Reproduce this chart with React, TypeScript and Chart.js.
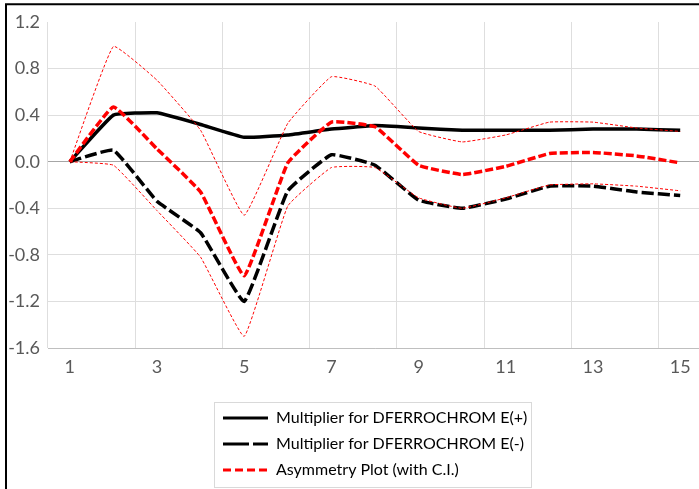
import React, { useEffect, useRef } from 'react';
import { Chart, registerables } from 'chart.js';

Chart.register(...registerables);

const categories = ['1', '2', '3', '4', '5', '6', '7', '8', '9', '10', '11', '12', '13', '14', '15'];
const multiplierPos = [0, 0.40, 0.42, 0.32, 0.21, 0.23, 0.28, 0.31, 0.29, 0.27, 0.27, 0.27, 0.28, 0.28, 0.27];
const multiplierNeg = [0, 0.10, -0.34, -0.61, -1.20, -0.25, 0.06, -0.03, -0.33, -0.40, -0.32, -0.21, -0.21, -0.26, -0.29];
const asymmetry = [0, 0.47, 0.11, -0.26, -0.98, -0.01, 0.34, 0.30, -0.03, -0.11, -0.04, 0.07, 0.08, 0.05, -0.01];
const upperCI = [0, 0.99, 0.70, 0.27, -0.46, 0.33, 0.73, 0.65, 0.26, 0.17, 0.23, 0.34, 0.34, 0.29, 0.26];
const lowerCI = [0, -0.03, -0.42, -0.82, -1.50, -0.38, -0.05, -0.05, -0.31, -0.40, -0.31, -0.20, -0.19, -0.21, -0.25];
const yMin = -1.6;
const yMax = 1.2;
const yStep = 0.4;
const legendLabels = ['Multiplier for DFERROCHROM E(+)', 'Multiplier for DFERROCHROM E(-)', 'Asymmetry Plot (with C.I.)'];

const FONT = 'Lato, "Open Sans", sans-serif';

const frameAndLegend = {
  id: 'frameAndLegend',
  afterDraw(chart: any) {
    const ctx = chart.ctx;
    ctx.save();
    // outer chart frame
    ctx.strokeStyle = '#000000';
    ctx.lineWidth = 2;
    ctx.beginPath();
    ctx.moveTo(6, 900);
    ctx.lineTo(6, 4.3);
    ctx.lineTo(900, 4.3);
    ctx.stroke();

    // legend box
    ctx.strokeStyle = '#d9d9d9';
    ctx.lineWidth = 1;
    ctx.strokeRect(214.5, 402.5, 317, 85);

    const rows = [418, 444, 470];
    const styles = [
      { color: '#000000', dash: [] as number[], width: 3 },
      { color: '#000000', dash: [26, 4], width: 3 },
      { color: '#ff0000', dash: [8, 4], width: 3 },
    ];
    ctx.font = '16px ' + FONT;
    ctx.textBaseline = 'middle';
    ctx.textAlign = 'left';
    rows.forEach((y, i) => {
      const s = styles[i];
      ctx.strokeStyle = s.color;
      ctx.lineWidth = s.width;
      ctx.setLineDash(s.dash);
      ctx.beginPath();
      ctx.moveTo(223, y);
      ctx.lineTo(268, y);
      ctx.stroke();
      ctx.setLineDash([]);
      ctx.fillStyle = '#000000';
      ctx.fillText(legendLabels[i], 276, y);
    });
    ctx.restore();
  },
};

export default function App() {
  const ref = useRef<HTMLCanvasElement>(null);
  useEffect(() => {
    document.body.style.margin = '0';
    document.body.style.overflow = 'hidden';
    const canvas = ref.current!;
    const chart = new Chart(canvas, {
      type: 'line',
      data: {
        labels: categories,
        datasets: [
          { label: 'Multiplier +', data: multiplierPos, borderColor: '#000000', borderWidth: 3.5, order: 5 },
          { label: 'Multiplier -', data: multiplierNeg, borderColor: '#000000', borderWidth: 3.5, borderDash: [12, 4], order: 4 },
          { label: 'Asymmetry', data: asymmetry, borderColor: '#ff0000', borderWidth: 3.5, borderDash: [8, 3], order: 3 },
          { label: 'Upper CI', data: upperCI, borderColor: '#ff0000', borderWidth: 1, borderDash: [3, 2], order: 2 },
          { label: 'Lower CI', data: lowerCI, borderColor: '#ff0000', borderWidth: 1, borderDash: [3, 2], order: 1 },
        ].map((d) => ({ ...d, pointRadius: 0, tension: 0.1, fill: false, borderCapStyle: 'butt' as const })),
      },
      options: {
        responsive: false,
        animation: false,
        devicePixelRatio: 1,
        layout: { padding: { top: 22, right: 8, bottom: 111, left: 0 } },
        plugins: { legend: { display: false }, tooltip: { enabled: false } },
        scales: {
          x: {
            offset: true,
            grid: {
              offset: true,
              drawTicks: false,
              color: (c: any) => (c.index % 2 === 0 ? '#dedede' : 'rgba(0,0,0,0)'),
            },
            border: { display: true, color: '#bfbfbf', width: 1 },
            ticks: {
              autoSkip: false,
              maxRotation: 0,
              padding: 8,
              color: '#595959',
              font: { family: FONT, size: 18 },
              callback: (_v: any, i: number) => (i % 2 === 0 ? categories[i] : ''),
            },
            afterFit: (s: any) => { s.height = 30; },
          },
          y: {
            min: yMin,
            max: yMax,
            grid: {
              drawTicks: false,
              color: (c: any) => {
                const v = c.tick ? c.tick.value : 0;
                if (v > yMax - 0.01) return 'rgba(0,0,0,0)';
                if (Math.abs(v) < 1e-6) return '#a6a6a6';
                return '#dedede';
              },
            },
            border: { display: false },
            ticks: {
              stepSize: yStep,
              padding: 8,
              color: '#595959',
              font: { family: FONT, size: 18 },
              callback: (v: any) => {
                const n = Number(v);
                return Math.abs(n) < 1e-6 ? '0.0' : n.toFixed(1);
              },
            },
            afterFit: (s: any) => { s.width = 48; },
          },
        },
      },
      plugins: [frameAndLegend],
    });
    return () => chart.destroy();
  }, []);
  return (
    <div style={{ position: 'relative', width: 699, height: 489, overflow: 'hidden', background: '#ffffff' }}>
      <canvas ref={ref} width={710} height={489} style={{ display: 'block', width: 710, height: 489 }} />
    </div>
  );
}
